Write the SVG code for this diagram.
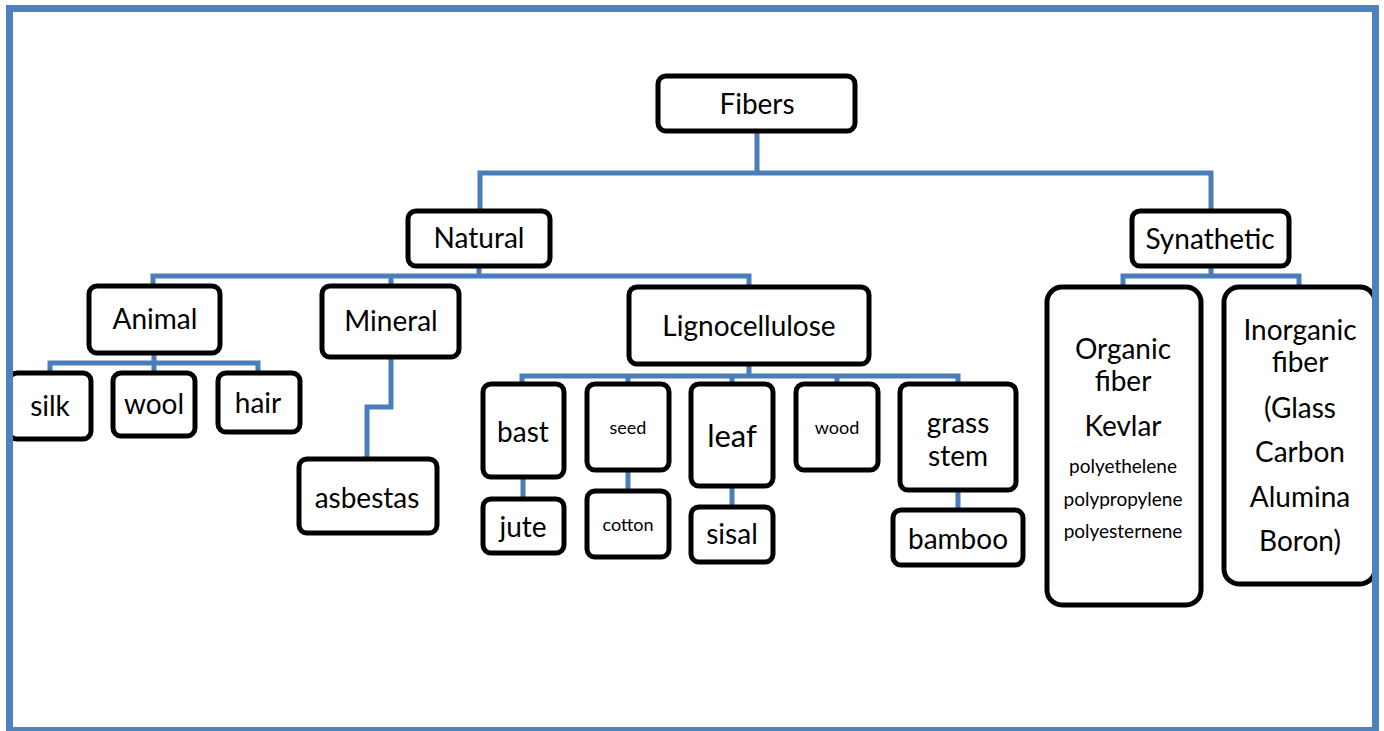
<svg xmlns="http://www.w3.org/2000/svg" width="1384" height="731" viewBox="0 0 1384 731">
<style>
.box{fill:#fff;stroke:#000;stroke-width:5}
.c{fill:none;stroke:#4A7EBB;stroke-width:5;stroke-linejoin:miter}
text{font-family:Lato,"Open Sans",sans-serif;fill:#000;text-anchor:middle;dominant-baseline:central}
.m{font-size:28px}
.s{font-size:18px}
.l{font-size:31px}
.p{font-size:19px}
</style>
<rect x="0" y="0" width="1384" height="731" fill="#fff"/>
<g id="connectors">
<path class="c" d="M757 131V173M480 210V173H1211V211"/>
<path class="c" d="M479 266V276M153 285V276H749V286M391 285V276"/>
<path class="c" d="M154 353V363M50 372V363H258V372M154 363V372"/>
<path class="c" d="M391 357V407H367V458"/>
<path class="c" d="M749 364V376M522 384V376H958V384M628 376V384M732 376V384M837 376V384"/>
<path class="c" d="M523 477V499M628 470V491M732 486V507M958 490V510"/>
<path class="c" d="M1211 266V276M1123 287V276H1299V287"/>
</g>
<g id="fibers"><rect class="box" x="658" y="76" width="197" height="55" rx="8"/><text class="m" x="757" y="103">Fibers</text></g>
<g id="natural"><rect class="box" x="408" y="211" width="142" height="55" rx="8"/><text class="m" x="479" y="237">Natural</text></g>
<g id="synthetic"><rect class="box" x="1132" y="211" width="157" height="55" rx="8"/><text class="m" x="1210" y="238">Synathetic</text></g>
<g id="animal"><rect class="box" x="89" y="286" width="131" height="67" rx="8"/><text class="m" x="155" y="318">Animal</text></g>
<g id="mineral"><rect class="box" x="322" y="286" width="137" height="71" rx="8"/><text class="m" x="391" y="320">Mineral</text></g>
<g id="lignocellulose"><rect class="box" x="629" y="287" width="240" height="77" rx="8"/><text class="m" x="749" y="325">Lignocellulose</text></g>
<g id="silk"><rect class="box" x="9" y="373" width="82" height="66" rx="8"/><text class="m" x="50" y="405">silk</text></g>
<g id="wool"><rect class="box" x="113" y="373" width="82" height="63" rx="8"/><text class="m" x="154" y="403">wool</text></g>
<g id="hair"><rect class="box" x="218" y="373" width="82" height="59" rx="8"/><text class="m" x="258" y="402">hair</text></g>
<g id="asbestas"><rect class="box" x="299" y="459" width="138" height="74" rx="8"/><text class="m" x="367" y="497">asbestas</text></g>
<g id="bast"><rect class="box" x="483" y="384" width="81" height="93" rx="8"/><text class="m" x="523" y="431">bast</text></g>
<g id="jute"><rect class="box" x="483" y="499" width="81" height="54" rx="8"/><text class="m" x="523" y="526">jute</text></g>
<g id="seed"><rect class="box" x="587" y="384" width="82" height="86" rx="8"/><text class="s" x="628" y="427">seed</text></g>
<g id="cotton"><rect class="box" x="587" y="491" width="82" height="66" rx="8"/><text class="s" x="628" y="524">cotton</text></g>
<g id="leaf"><rect class="box" x="691" y="384" width="82" height="102" rx="8"/><text class="l" x="732" y="435">leaf</text></g>
<g id="sisal"><rect class="box" x="691" y="507" width="82" height="55" rx="8"/><text class="m" x="732" y="533">sisal</text></g>
<g id="wood"><rect class="box" x="796" y="384" width="82" height="86" rx="8"/><text class="s" x="837" y="427">wood</text></g>
<g id="grass-stem"><rect class="box" x="900" y="384" width="116" height="106" rx="8"/><text class="m" x="958" y="422">grass</text><text class="m" x="958" y="455">stem</text></g>
<g id="bamboo"><rect class="box" x="893" y="510" width="130" height="55" rx="8"/><text class="m" x="958" y="538">bamboo</text></g>
<g id="organic"><rect class="box" x="1047" y="287" width="154" height="318" rx="15"/>
<text class="m" x="1123" y="348">Organic</text><text class="m" x="1123" y="380">fiber</text><text class="m" x="1123" y="425">Kevlar</text>
<text class="p" x="1123" y="465">polyethelene</text><text class="p" x="1123" y="498">polypropylene</text><text class="p" x="1123" y="530">polyesternene</text></g>
<g id="inorganic"><rect class="box" x="1224" y="287" width="151" height="297" rx="15"/>
<text class="m" x="1300" y="329">Inorganic</text><text class="m" x="1300" y="361">fiber</text><text class="m" x="1300" y="407">(Glass</text>
<text class="m" x="1300" y="451">Carbon</text><text class="m" x="1300" y="496">Alumina</text><text class="m" x="1300" y="540">Boron)</text></g>
<rect x="9.5" y="8.5" width="1366" height="722" fill="none" stroke="#4F81BD" stroke-width="7"/>
</svg>
